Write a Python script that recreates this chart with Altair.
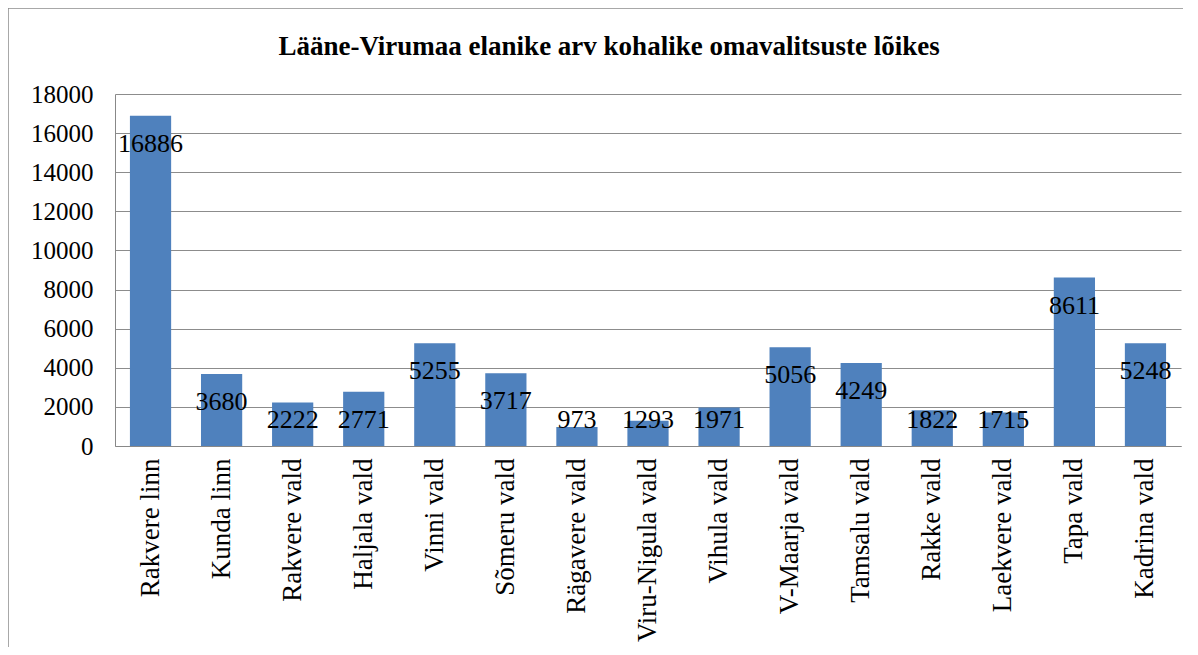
import altair as alt
import pandas as pd

categories = ["Rakvere linn", "Kunda linn", "Rakvere vald", "Haljala vald", "Vinni vald",
              "Sõmeru vald", "Rägavere vald", "Viru-Nigula vald", "Vihula vald", "V-Maarja vald",
              "Tamsalu vald", "Rakke vald", "Laekvere vald", "Tapa vald", "Kadrina vald"]
values = [16886, 3680, 2222, 2771, 5255, 3717, 973, 1293, 1971, 5056, 4249, 1822, 1715, 8611, 5248]
title_text = "Lääne-Virumaa elanike arv kohalike omavalitsuste lõikes"
y_ticks = list(range(0, 18001, 2000))

df = pd.DataFrame({"cat": categories, "val": values})

FONT = "Liberation Serif"
W, H = 1066, 352

y_scale = alt.Scale(domain=[0, 18000], nice=False)
x_scale = alt.Scale(paddingInner=0.42, paddingOuter=0.21)
x_axis = alt.Axis(title=None, labelAngle=-90, labelFont=FONT, labelFontSize=27,
                  labelColor="black", ticks=False, domainColor="#888888",
                  labelPadding=12, labelBaseline="middle", labelOverlap=False,
                  labelLimit=400)
y_axis = alt.Axis(title=None, values=y_ticks, format="d", labelFont=FONT,
                  labelFontSize=25, labelColor="black", ticks=False,
                  domainColor="#888888", grid=True, gridColor="#8c8c8c",
                  gridWidth=1, labelPadding=22, labelOverlap=False)

bars = alt.Chart(df).mark_bar(color="#4F81BD").encode(
    x=alt.X("cat:N", sort=categories, scale=x_scale, axis=x_axis),
    y=alt.Y("val:Q", scale=y_scale, axis=y_axis)
)

labels = alt.Chart(df).transform_calculate(
    lab="max(datum.val - 1430, 1330)"
).mark_text(font=FONT, fontSize=26, color="black", baseline="middle").encode(
    x=alt.X("cat:N", sort=categories, scale=x_scale, axis=x_axis),
    y=alt.Y("lab:Q", scale=y_scale, axis=y_axis),
    text=alt.Text("val:Q", format="d")
)

frame = alt.Chart(pd.DataFrame({"f": [0]})).mark_rect(
    fill=None, stroke="#8c8c8c", strokeWidth=1.5, clip=False
).encode(
    x=alt.value(-107), x2=alt.value(1300), y=alt.value(-86), y2=alt.value(700)
)

title = alt.Chart(pd.DataFrame({"t": [title_text]})).mark_text(
    font=FONT, fontSize=27, fontWeight="bold", color="black", baseline="alphabetic"
).encode(
    x=alt.value(494), y=alt.value(-39), text="t:N"
)

chart = alt.layer(frame, bars, labels, title).properties(
    width=W, height=H,
    autosize=alt.AutoSizeParams(type="none"),
    padding={"left": 107, "top": 86, "right": 2, "bottom": 201}
).configure_view(stroke=None)

chart.save("out.html", embed_options={"renderer": "svg", "actions": False})
